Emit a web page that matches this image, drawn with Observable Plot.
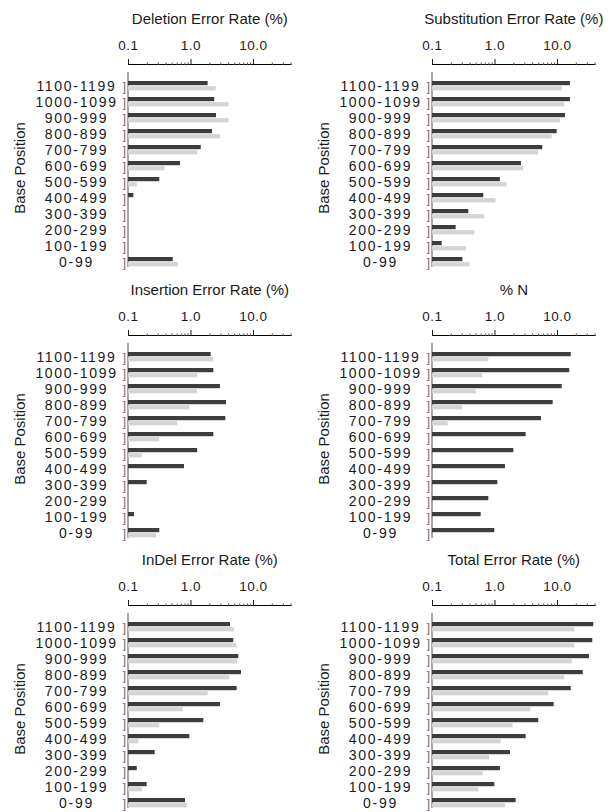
<!DOCTYPE html>
<html>
<head>
<meta charset="utf-8">
<script src="https://cdn.jsdelivr.net/npm/d3@7"></script>
<script src="https://cdn.jsdelivr.net/npm/@observablehq/plot@0.6"></script>
<style>
  body { margin: 0; background: #fff; }
  #root { position: relative; width: 615px; height: 812px; overflow: hidden; background: #fff; }
  .panel { position: absolute; }
  .panel svg { overflow: visible; }
  .panel g[aria-label="y-axis tick label"] text { letter-spacing: 1.7px; }
  .panel g[aria-label="x-axis tick label"] text { letter-spacing: 0.5px; }
  .panel g[aria-label="panel title"] text { letter-spacing: 0.8px; }
  .panel g[aria-label="y label"] text { letter-spacing: 1px; }
</style>
</head>
<body>
<div id="root"></div>
<script>
// Categories listed bottom → top
const categories = ["0-99","100-199","200-299","300-399","400-499","500-599","600-699","700-799","800-899","900-999","1000-1099","1100-1199"];

const xDomain = [0.1, 40];
const xTickValues = [0.1, 1, 10];
const xTickLabels = ["0.1", "1.0", "10.0"];
const xMinorTicks = [0.2,0.3,0.4,0.5,0.6,0.7,0.8,0.9,2,3,4,5,6,7,8,9,20,30,40];

const yLabel = "Base Position";
const titles = ["Deletion Error Rate (%)", "Substitution Error Rate (%)", "Insertion Error Rate (%)", "% N", "InDel Error Rate (%)", "Total Error Rate (%)"];

// values per category (0-99 first); null = no bar
const deletionDark  = [0.52, null, null, null, 0.122, 0.317, 0.68, 1.46, 2.21, 2.56, 2.40, 1.88];
const deletionLight = [0.63, null, null, null, null, 0.138, 0.386, 1.28, 2.96, 4.08, 4.08, 2.53];

const substitutionDark  = [0.306, 0.143, 0.239, 0.381, 0.662, 1.22, 2.65, 5.82, 9.89, 13.4, 16.1, 16.1];
const substitutionLight = [0.395, 0.350, 0.475, 0.687, 1.04, 1.57, 2.89, 5.02, 8.22, 11.2, 13.1, 11.9];

const insertionDark  = [0.317, 0.125, null, 0.199, 0.787, 1.28, 2.32, 3.61, 3.70, 2.96, 2.32, 2.10];
const insertionLight = [0.281, null, null, null, null, 0.166, 0.317, 0.615, 0.957, 1.26, 1.28, 2.32];

const percentNDark  = [0.993, 0.601, 0.796, 1.11, 1.47, 2.0, 3.15, 5.55, 8.53, 11.9, 15.7, 16.6];
const percentNLight = [null, null, null, null, null, null, null, 0.178, 0.306, 0.50, 0.638, 0.796];

const indelDark  = [0.817, 0.199, 0.138, 0.267, 0.957, 1.60, 2.96, 5.48, 6.43, 5.82, 4.84, 4.29];
const indelLight = [0.889, 0.166, null, null, 0.146, 0.317, 0.75, 1.88, 4.18, 5.61, 5.48, 4.97];

const totalDark  = [2.18, 0.993, 1.22, 1.77, 3.15, 5.02, 8.85, 16.6, 25.8, 32.5, 36.7, 38.1];
const totalLight = [1.47, 0.551, 0.647, 0.817, 1.26, 1.95, 3.74, 7.26, 13.1, 17.2, 18.9, 18.9];

const darkColor = "#3d3d3d";
const lightColor = "#d4d4d4";

function panel(title, dark, light, left, top) {
  const darkRows = categories.map((c, i) => ({category: c, value: dark[i]})).filter(d => d.value != null);
  const lightRows = categories.map((c, i) => ({category: c, value: light[i]})).filter(d => d.value != null);
  const chart = Plot.plot({
    width: 307,
    height: 271,
    marginLeft: 128,
    marginRight: 16.4,
    marginTop: 64,
    marginBottom: 0,
    style: {fontFamily: "'Liberation Sans', Arial, sans-serif", background: "transparent", overflow: "visible", color: "#1a1a1a"},
    x: {type: "log", domain: xDomain},
    y: {domain: categories.slice().reverse(), padding: 0, insetTop: 12.4},
    marks: [
      Plot.ruleX([xDomain[0]], {stroke: "#a8a8a8", strokeWidth: 2, insetTop: 8, insetBottom: 4, dx: -0.5}),
      Plot.barX(darkRows, {y: "category", x1: () => xDomain[0], x2: "value", fill: darkColor, insetTop: 3.0, insetBottom: 8.8}),
      Plot.barX(lightRows, {y: "category", x1: () => xDomain[0], x2: "value", fill: lightColor, insetTop: 8.2, insetBottom: 3.6}),
      Plot.text(categories, {y: d => d, text: () => "]", frameAnchor: "left", dx: -6, fontSize: 13, fill: "#777"}),
      Plot.axisY({anchor: "left", tickSize: 0, tickPadding: 52, textAnchor: "middle", fontSize: 14, label: null}),
      Plot.frame({anchor: "top", stroke: "#000"}),
      Plot.axisX(xTickValues, {anchor: "top", tickSize: 6, tickPadding: 9, fontSize: 13.5, label: null,
        tickFormat: d => xTickLabels[xTickValues.indexOf(d)]}),
      Plot.axisX(xMinorTicks, {anchor: "top", tickSize: 2.5, tickFormat: () => "", label: null, stroke: "#555"}),
      Plot.text([title], {frameAnchor: "top", lineAnchor: "middle", dy: -45, fontSize: 15, ariaLabel: "panel title"}),
      Plot.text([yLabel], {frameAnchor: "left", textAnchor: "middle", lineAnchor: "middle", dx: -108, rotate: -90, fontSize: 15, ariaLabel: "y label"})
    ]
  });
  const div = document.createElement("div");
  div.className = "panel";
  div.style.left = left + "px";
  div.style.top = top + "px";
  div.appendChild(chart);
  document.getElementById("root").appendChild(div);
}

panel(titles[0], deletionDark, deletionLight, 0, 0);
panel(titles[1], substitutionDark, substitutionLight, 304, 0);
panel(titles[2], insertionDark, insertionLight, 0, 271);
panel(titles[3], percentNDark, percentNLight, 304, 271);
panel(titles[4], indelDark, indelLight, 0, 541);
panel(titles[5], totalDark, totalLight, 304, 541);
</script>
</body>
</html>
